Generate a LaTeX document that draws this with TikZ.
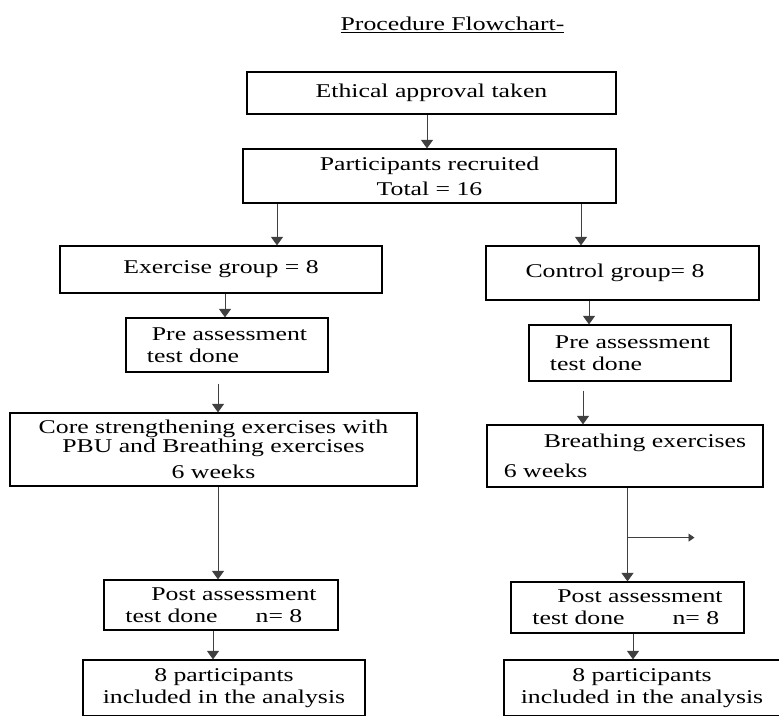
\documentclass[tikz,border=0pt]{standalone}
\usepackage{fontspec}
\setmainfont[FakeStretch=1.32]{Liberation Serif}
\usetikzlibrary{arrows.meta}
\begin{document}
\begin{tikzpicture}[x=1pt,y=-1pt,>={Triangle[length=8.5pt,width=12pt]},
  every node/.style={font=\fontsize{19.5}{22}\selectfont},
  box/.style={draw,line width=1.2pt,rectangle,inner sep=0pt},
  arr/.style={->,black!75,line width=0.9pt}]
\path[use as bounding box,clip] (0,0) rectangle (779,715);
\node (title) at (452.5,25) {\underline{Procedure Flowchart-}};
\node[box,minimum width=369pt,minimum height=42pt] (ethical) at (431.5,93) {Ethical approval taken};
\node[box,minimum width=373pt,minimum height=54pt,align=center] (recruit) at (429.5,176) {Participants recruited\\[3pt]Total = 16};
% exercise side
\node[box,minimum width=322pt,minimum height=47pt] (exgroup) at (221,269.5) {Exercise group = 8};
\node[box,minimum width=202pt,minimum height=54pt,align=left] (preex) at (227,345) {\hspace{5pt}Pre assessment\\test done};
\node[box,minimum width=407pt,minimum height=73pt,align=center] (coreex) at (213.5,449.5) {Core strengthening exercises with\\[-3pt]PBU and Breathing exercises\\[4pt]6 weeks};
\node[box,minimum width=234pt,minimum height=50pt,align=left] (postex) at (221,605) {\hspace{26pt}Post assessment\\test done\hspace{38pt}n= 8};
\node[box,minimum width=282pt,minimum height=56pt,align=center] (analysisex) at (224,688) {8 participants\\included in the analysis};
% control side
\node[box,minimum width=273pt,minimum height=54pt] (ctgroup) at (622.5,273) {\hspace{-15pt}Control group= 8};
\node[box,minimum width=202pt,minimum height=56pt,align=left] (prect) at (630,353) {\hspace{5pt}Pre assessment\\test done};
\node[box,minimum width=276pt,minimum height=62pt,align=left] (breath) at (625,456) {\hspace{40pt}Breathing exercises\\[8pt]6 weeks};
\node[box,minimum width=233pt,minimum height=51pt,align=left] (postct) at (627.5,607.5) {\hspace{25pt}Post assessment\\test done\hspace{48pt}n= 8};
\node[box,minimum width=276pt,minimum height=56pt,align=center] (analysisct) at (642,688) {8 participants\\included in the analysis};
% connectors
\draw[arr] ([xshift=-4.5pt]ethical.south) -- ([xshift=-4.5pt]ethical.south |- recruit.north);
\draw[arr] ([xshift=56pt]exgroup.north |- recruit.south) -- ([xshift=56pt]exgroup.north);
\draw[arr] ([xshift=-41.5pt]ctgroup.north |- recruit.south) -- ([xshift=-41.5pt]ctgroup.north);
\draw[arr] ([xshift=-2pt]preex.north |- exgroup.south) -- ([xshift=-2pt]preex.north);
\draw[arr] ([xshift=-41pt]prect.north |- ctgroup.south) -- ([xshift=-41pt]prect.north);
\draw[arr,shorten <=11pt] ([xshift=4.5pt]coreex.north |- preex.south) -- ([xshift=4.5pt]coreex.north);
\draw[arr,shorten <=9pt] ([xshift=-42pt]breath.north |- prect.south) -- ([xshift=-42pt]breath.north);
\draw[arr] ([xshift=-3pt]postex.north |- coreex.south) -- ([xshift=-3pt]postex.north);
\draw[arr] (postct.north |- breath.south) -- (postct.north);
\coordinate (split) at ([yshift=-50pt]breath.south -| postct.north);
\coordinate (drop) at ([xshift=67pt]split);
\draw[arr,>={Triangle[length=6pt,width=8pt]}] (split) -- (drop);
\draw[arr] ([xshift=-11pt]analysisex.north |- postex.south) -- ([xshift=-11pt]analysisex.north);
\draw[arr] ([xshift=-9pt]analysisct.north |- postct.south) -- ([xshift=-9pt]analysisct.north);
\end{tikzpicture}
\end{document}
